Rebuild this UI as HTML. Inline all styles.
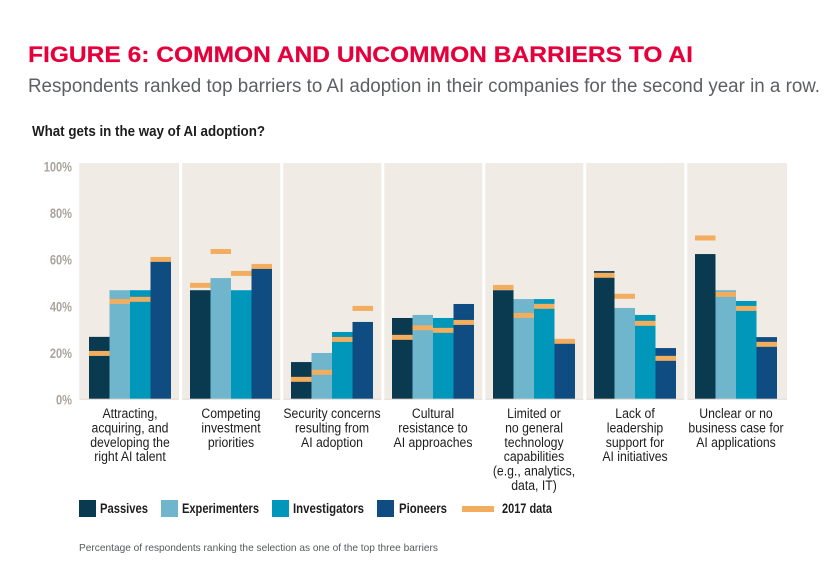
<!DOCTYPE html>
<html lang="en">
<head>
<meta charset="utf-8">
<title>Figure 6: Common and uncommon barriers to AI</title>
<style>
html,body{margin:0;padding:0;background:#fff;}
svg{display:block;}
text{font-family:"Liberation Sans",sans-serif;}
</style>
</head>
<body>
<svg id="chart" xmlns="http://www.w3.org/2000/svg" width="835" height="579" viewBox="0 0 835 579">
  <text x="28" y="62" fill="#e5003c" stroke="#e5003c" stroke-width="0.2" font-size="22.5" font-weight="700" textLength="665" lengthAdjust="spacingAndGlyphs">FIGURE 6: COMMON AND UNCOMMON BARRIERS TO AI</text>
  <text x="28" y="92" fill="#5d6063" font-size="19" textLength="792" lengthAdjust="spacingAndGlyphs">Respondents ranked top barriers to AI adoption in their companies for the second year in a row.</text>
  <text x="32" y="136" fill="#1d1d1d" font-size="15" font-weight="700" textLength="233" lengthAdjust="spacingAndGlyphs">What gets in the way of AI adoption?</text>
  <g id="panels"></g>
  <g id="yticks"></g>
  <g id="bars"></g>
  <g id="marks"></g>
  <g id="labels"></g>
  <g id="legend"></g>
  <text x="79" y="551" fill="#55585a" font-size="10.5" textLength="359" lengthAdjust="spacingAndGlyphs">Percentage of respondents ranking the selection as one of the top three barriers</text>
</svg>
<script>
const categories = [
  ["Attracting,","acquiring, and","developing the","right AI talent"],
  ["Competing","investment","priorities"],
  ["Security concerns","resulting from","AI adoption"],
  ["Cultural","resistance to","AI approaches"],
  ["Limited or","no general","technology","capabilities","(e.g., analytics,","data, IT)"],
  ["Lack of","leadership","support for","AI initiatives"],
  ["Unclear or no","business case for","AI applications"]
];
const passives = [26.5,46.5,15.7,34.6,46.5,54.7,62];
const experimenters = [46.5,51.7,19.6,35.9,42.7,38.9,46.5];
const investigators = [46.5,46.5,28.6,34.6,42.7,35.9,41.9];
const pioneers = [59.7,55.9,32.9,40.6,24,21.7,26.4];
const passives2017 = [19.4,48.6,8.3,26.3,47.7,52.9,68.9];
const experimenters2017 = [41.7,63.1,11.3,30.4,35.7,43.9,44.7];
const investigators2017 = [42.6,53.7,25.4,29.3,39.6,32.3,38.7];
const pioneers2017 = [59.7,56.7,38.7,32.7,24.6,17.3,23.3];
const yTickValues = [0,20,40,60,80,100];
const seriesNames = ["Passives","Experimenters","Investigators","Pioneers"];
const seriesColors = ["#0a3a50","#6fb5cb","#0097bb","#0f4c81"];
const markColor = "#f2ad5e";

const NS = "http://www.w3.org/2000/svg";
const baseY = 398.7, pxPerPct = 2.333;
const y = v => baseY - v * pxPerPct;
const groupLeft = i => 89 + i * 101;
const barW = 20.5;
const barX = (i, s) => groupLeft(i) + s * barW;
const panelX = i => i === 0 ? 79.3 : groupLeft(i) - 7.7;
const panelW = i => (i === 0 || i === categories.length - 1) ? 99.7 : 98;
function make(parent, tag, attrs, text){
  const el = document.createElementNS(NS, tag);
  for (const k in attrs) el.setAttribute(k, attrs[k]);
  if (text !== undefined) el.textContent = text;
  document.getElementById(parent).appendChild(el);
  return el;
}
const values = [passives, experimenters, investigators, pioneers];
const marks = [passives2017, experimenters2017, investigators2017, pioneers2017];

categories.forEach((lines, i) => {
  const p = make("panels", "rect", {x: panelX(i), y: 163, width: panelW(i), height: baseY - 163, fill: "#f0ebe5"});
  
  
  const b = make("panels", "rect", {x: panelX(i), y: baseY, width: panelW(i), height: 1, fill: "#dcd6cf"});
  
  

  values.forEach((series, s) => {
    const r = make("bars", "rect", {x: barX(i, s), y: y(series[i]), width: barW, height: baseY - y(series[i]), fill: seriesColors[s]});
    
    
  });
  marks.forEach((series, s) => {
    const m = make("marks", "rect", {x: barX(i, s), y: y(series[i]) - 2.5, width: barW, height: 5, fill: markColor});
    
    
  });
  lines.forEach((line, l) => {
    const t = make("labels", "text", {transform: `translate(${groupLeft(i) + 41},${418 + l * 14.4}) scale(0.875,1)`, "text-anchor": "middle", "font-size": 14, fill: "#1d1d1d"}, line);
    
    
  });
});

yTickValues.forEach(v => {
  const t = make("yticks", "text", {transform: `translate(72,${y(v) + 6}) scale(0.79,1)`, "text-anchor": "end", "font-size": 14, "font-weight": 700, fill: "#aaa49d"}, v + "%");
  
  
});

const legendBoxX = [79, 161, 272, 377];
const legendTextX = [100, 182, 293, 399];
const legendTextW = [48, 77, 71, 48];
seriesNames.forEach((name, s) => {
  const r = make("legend", "rect", {x: legendBoxX[s], y: 500, width: 17, height: 17, fill: seriesColors[s]});
  
  
  const t = make("legend", "text", {x: legendTextX[s], y: 513, "font-size": 13.5, "font-weight": 700, fill: "#1d1d1d", textLength: legendTextW[s], lengthAdjust: "spacingAndGlyphs"}, name);
  
  
});
const lm = make("legend", "rect", {x: 462, y: 506, width: 32, height: 6, fill: markColor});


const lt = make("legend", "text", {x: 502, y: 513, "font-size": 13.5, "font-weight": 700, fill: "#1d1d1d", textLength: 50, lengthAdjust: "spacingAndGlyphs"}, "2017 data");


</script>
</body>
</html>
